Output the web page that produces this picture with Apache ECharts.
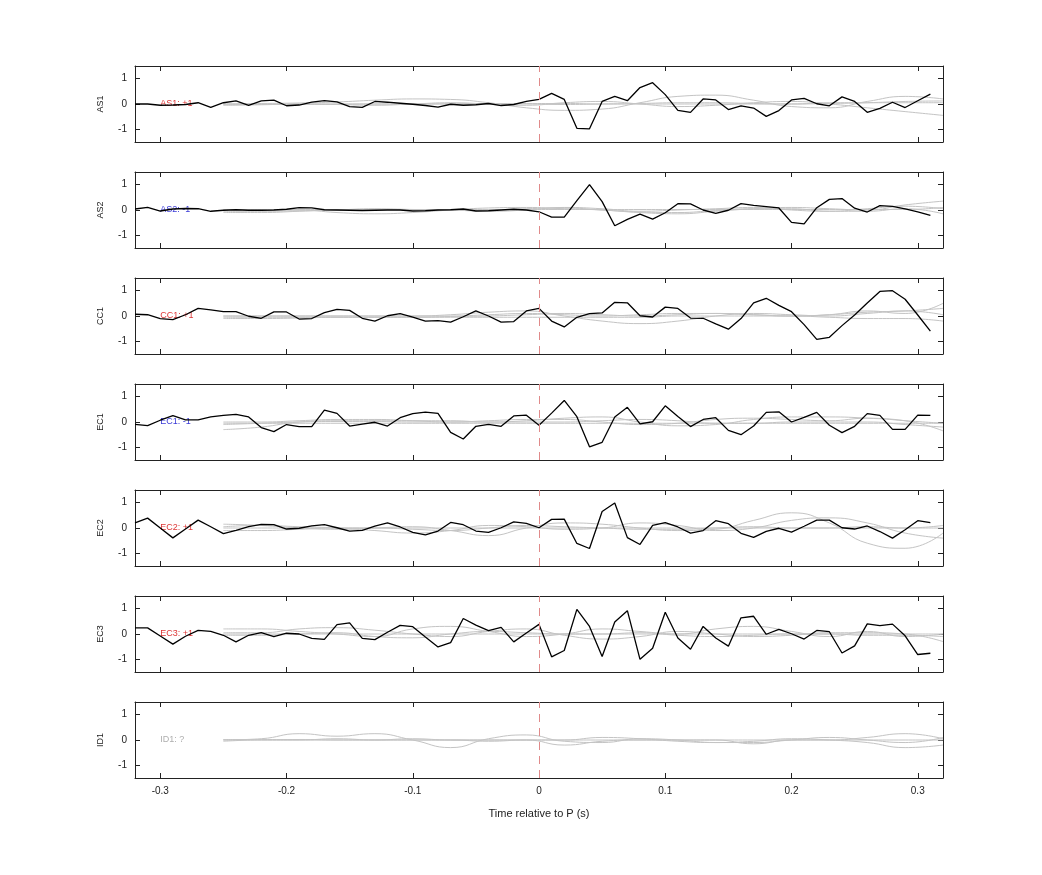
<!DOCTYPE html>
<html>
<head>
<meta charset="utf-8">
<script src="https://cdn.jsdelivr.net/npm/echarts@6/dist/echarts.min.js"></script>
<style>html,body{margin:0;background:#fff}#main{width:1042px;height:875px}</style>
</head>
<body>
<div id="main"></div>
<script>
var stations = ['AS1', 'AS2', 'CC1', 'EC1', 'EC2', 'EC3', 'ID1'];
var polarity = ['AS1: +1', 'AS2: -1', 'CC1: +1', 'EC1: -1', 'EC2: +1', 'EC3: +1', 'ID1: ?'];
var polColor = ['#d40000', '#0000cc', '#d40000', '#0000cc', '#d40000', '#d40000', '#999999'];
var xTicks = [-0.3, -0.2, -0.1, 0, 0.1, 0.2, 0.3];
var yTicks = [-1, 0, 1];

// observed traces, one sample every 0.01 s from -0.32 s
var as1 = [0,0,-0.05,-0.04,-0.02,0.05,-0.13,0.05,0.12,-0.05,0.12,0.15,-0.07,-0.04,0.07,0.13,0.08,-0.1,-0.13,0.1,0.07,0.03,-0.01,-0.06,-0.12,-0.01,-0.05,-0.03,0.02,-0.06,-0.02,0.1,0.18,
  0.42,0.18,-0.96,-0.98,0.1,0.3,0.13,0.65,0.84,0.37,-0.25,-0.33,0.2,0.16,-0.22,-0.07,-0.16,-0.49,-0.26,0.16,0.22,0.01,-0.07,0.28,0.1,-0.33,-0.17,0.07,-0.14,0.13,0.39];
var as2 = [0.04,0.1,-0.04,0.04,0.06,0.05,-0.05,-0.01,0.01,-0.01,-0.01,0,0.03,0.09,0.08,0.01,0,-0.01,-0.02,-0.01,0,0,-0.04,-0.03,0,0.01,0.04,-0.04,-0.03,0,0.03,0,-0.07,
  -0.28,-0.28,0.37,1.0,0.33,-0.62,-0.37,-0.16,-0.36,-0.11,0.25,0.24,0,-0.13,-0.01,0.25,0.18,0.13,0.08,-0.49,-0.55,0.09,0.42,0.45,0.07,-0.08,0.17,0.14,0.04,-0.07,-0.21];
var cc1 = [0.07,0.05,-0.1,-0.14,0.05,0.3,0.24,0.17,0.17,-0.01,-0.09,0.16,0.16,-0.12,-0.1,0.13,0.26,0.22,-0.09,-0.2,0.01,0.09,-0.04,-0.2,-0.18,-0.24,-0.03,0.2,0,-0.24,-0.22,0.2,0.3,
  -0.2,-0.43,-0.05,0.09,0.12,0.54,0.52,0.01,-0.04,0.35,0.3,-0.08,-0.09,-0.31,-0.52,-0.1,0.52,0.7,0.42,0.17,-0.34,-0.92,-0.84,-0.38,0.04,0.51,0.97,1.0,0.66,0.04,-0.6];
var ec1 = [-0.09,-0.14,0.07,0.25,0.08,0.08,0.2,0.26,0.3,0.2,-0.22,-0.38,-0.1,-0.18,-0.18,0.47,0.34,-0.16,-0.08,-0.01,-0.16,0.17,0.33,0.39,0.34,-0.41,-0.67,-0.17,-0.09,-0.17,0.24,0.27,-0.13,
  0.35,0.85,0.21,-0.98,-0.8,0.2,0.58,-0.07,0.01,0.64,0.22,-0.18,0.1,0.17,-0.33,-0.5,-0.16,0.38,0.4,0,0.18,0.38,-0.13,-0.42,-0.17,0.33,0.26,-0.29,-0.29,0.27,0.26];
var ec2 = [0.2,0.39,0,-0.39,-0.04,0.31,0.05,-0.22,-0.09,0.05,0.14,0.13,-0.04,-0.01,0.08,0.13,0.01,-0.12,-0.09,0.07,0.2,0.04,-0.17,-0.27,-0.12,0.22,0.13,-0.12,-0.17,0.01,0.24,0.18,0.01,
  0.34,0.35,-0.61,-0.81,0.65,0.99,-0.38,-0.65,0.1,0.21,0.04,-0.2,-0.1,0.29,0.17,-0.21,-0.37,-0.13,-0.01,-0.16,0.07,0.31,0.31,0.01,-0.04,0.08,-0.14,-0.4,-0.07,0.29,0.21];
var ec3 = [0.24,0.24,-0.08,-0.4,-0.09,0.14,0.1,-0.05,-0.31,-0.05,0.05,-0.1,0.03,0,-0.17,-0.21,0.37,0.44,-0.17,-0.22,0.07,0.34,0.29,-0.12,-0.51,-0.34,0.61,0.35,0.13,0.26,-0.31,0.04,0.38,
  -0.9,-0.65,0.97,0.3,-0.89,0.47,0.92,-1.0,-0.56,0.86,-0.16,-0.6,0.3,-0.16,-0.48,0.64,0.7,-0.01,0.18,0.01,-0.2,0.14,0.09,-0.75,-0.47,0.4,0.33,0.39,-0.07,-0.81,-0.76];
var observed = [as1, as2, cc1, ec1, ec2, ec3, null];

// synthetic traces, one sample every 0.03 s from -0.25 s
var synAS1 = [
  [0,0.02,0.04,0.08,0.15,0.2,0.18,0.05,-0.15,-0.25,-0.2,0.05,0.3,0.35,0.15,-0.1,-0.15,0.1,0.3,0.2],
  [-0.05,-0.03,0,-0.02,-0.05,0,0.05,0,-0.05,0.05,0.1,0,-0.1,-0.05,0.05,0.1,0,-0.15,-0.3,-0.45],
  [0,0,0,0,0,0,0,0,0.02,0.02,0,0,0,0,0,0,0.05,0.05,0.05,0.05],
  [-0.03,-0.02,-0.02,-0.01,0,0,0.01,0.02,0,-0.02,0,0.02,0.05,0.05,0.02,0,0.02,0.05,0.1,0.12]];
var synAS2 = [
  [0,0,0,-0.1,-0.15,-0.1,0,0.08,0.1,0.05,0,-0.1,-0.15,-0.05,0.05,0.1,0.05,0,0.2,0.35],
  [-0.1,-0.1,-0.05,0,0.05,0.02,0,-0.05,0,0.1,0.05,-0.05,0,0.05,0.1,0,-0.05,0.05,0.15,0.05],
  [0.02,0.02,0.02,0.02,0.02,0.02,0.02,0.02,0.02,0.02,0.02,0.02,0.02,0.02,0.02,0.02,0.02,0.02,0.02,0.1],
  [-0.05,-0.05,-0.03,0,0.02,0,-0.02,0,0.05,0.08,0,-0.08,-0.1,-0.02,0.05,0.05,-0.05,-0.05,0.05,-0.15]];
var synCC1 = [
  [0,0,0,0,0,0,0.05,0.15,0.2,0,-0.2,-0.3,-0.2,0,0.1,0.05,0,0.1,0.2,0.05],
  [-0.1,-0.1,-0.08,-0.05,-0.05,-0.05,-0.02,0,0.05,0.1,0.05,0,0.05,0.1,0.05,0,0.05,0.2,0.1,0.5],
  [-0.05,-0.05,-0.05,-0.05,-0.05,-0.05,-0.05,-0.05,-0.05,-0.05,-0.05,-0.05,0,0,0,0,-0.05,-0.1,-0.1,-0.2],
  [0,0,0,0,0,0,0,0.05,0.1,0.05,0,0.05,0.1,0.1,0.05,0,0.05,0.15,0.2,0.3]];
var synEC1 = [
  [-0.3,-0.2,0,0.05,0.05,0.05,0.05,0,0.05,0.15,0.2,0,-0.15,-0.1,0.1,0.2,0.2,0.15,0.05,-0.35],
  [-0.1,-0.05,0,0.02,0.02,0,0,0.05,0.1,0.1,0,-0.1,-0.05,0.1,0.15,0.1,0.05,0.15,0.05,-0.05],
  [0,0,0.05,0.1,0.1,0.05,0,0,0,0,0.05,0.1,0.05,-0.05,-0.05,0,0,0,-0.1,-0.2],
  [-0.05,-0.05,-0.05,-0.05,-0.05,-0.05,-0.05,-0.05,-0.05,-0.05,-0.05,-0.05,-0.05,-0.05,-0.05,-0.05,-0.05,-0.05,-0.05,-0.05]];
var synEC2 = [
  [0.05,0.1,0.05,0,-0.1,-0.2,-0.1,0.1,0.05,-0.05,0,0.2,0.1,-0.1,0,0.3,0.4,0.2,-0.2,-0.4],
  [0.15,0.1,0,-0.05,0,0.05,-0.1,-0.3,0,0.2,0.15,0,-0.1,-0.05,0.3,0.6,0.2,-0.6,-0.8,-0.2],
  [-0.1,-0.1,-0.05,0,0,-0.05,-0.1,0,0.1,0.05,0,-0.05,-0.05,0,0.05,0,0,0.05,0,0.1],
  [0,0,0,0,0,0,0,0,0,0,0,0,0,0,0,0,0,0,0,0]];
var synEC3 = [
  [0.2,0.2,0.1,0,-0.1,0.2,0.3,0.1,-0.1,0,0.2,0.1,0,0.2,0.3,0.1,-0.1,0.1,-0.1,0],
  [0.05,0.05,0.2,0.25,0.15,0,-0.1,0.1,0.2,-0.05,-0.2,-0.1,0.1,0,-0.1,-0.05,0.05,0.05,0,-0.3],
  [-0.05,-0.05,0,0.05,-0.1,-0.15,0,0.1,0.05,0,0,0.05,-0.05,-0.1,-0.05,0,0,-0.05,-0.05,-0.1],
  [0,0,0,0,0,0,0,0,0,0,0,0,0,0,0,0,0,0,0,0]];
var synID1 = [
  [0,0.05,0.25,0.15,0.25,0,-0.3,0.05,0.2,-0.05,-0.1,0.05,0,-0.1,-0.1,0,0.1,0,-0.1,0.1],
  [-0.05,0,0,0.05,0,0.05,0,0,0,0,0.1,0.05,-0.05,-0.1,-0.05,0.05,0,-0.1,-0.3,-0.2],
  [0,0,0,0,0,0,0,-0.05,0,-0.2,-0.05,0,0,0,-0.15,0,0,0.1,0.25,0.05],
  [0.02,0.02,0.02,0,0,0,0,0,0,0,0,0,0,0,0,0,0,0,0,0]];
var synthetic = [synAS1, synAS2, synCC1, synEC1, synEC2, synEC3, synID1];

var tObs = as1.map(function (_, i) { return Math.round((-0.32 + 0.01 * i) * 100) / 100; });
var tSyn = synAS1[0].map(function (_, i) { return Math.round((-0.25 + 0.03 * i) * 100) / 100; });

var font = 'Liberation Sans';
var grids = [], xAxes = [], yAxes = [], series = [];
var n = stations.length;
stations.forEach(function (name, p) {
  var last = p === n - 1;
  grids.push({ left: 135, right: 99, top: 66 + 106 * p, height: 76 });
  var xBase = {
    gridIndex: p, type: 'value', min: -0.32, max: 0.32,
    axisLine: { onZero: false, lineStyle: { color: '#222', width: 1 } },
    axisTick: { inside: true, length: 5, customValues: xTicks, lineStyle: { color: '#222' } },
    splitLine: { show: false }
  };
  xAxes.push(Object.assign({}, xBase, {
    position: 'bottom',
    axisLabel: { show: last, customValues: xTicks, fontFamily: font, fontSize: 10, color: '#222', margin: 8,
      formatter: function (v) { return String(Math.round(v * 10) / 10); } },
    name: last ? 'Time relative to P (s)' : '', nameLocation: 'middle', nameGap: 30,
    nameTextStyle: { fontFamily: font, fontSize: 11, color: '#222' }
  }));
  xAxes.push(Object.assign({}, xBase, { position: 'top', axisLabel: { show: false } }));
  var yBase = {
    gridIndex: p, type: 'value', min: -1.5, max: 1.5,
    axisLine: { onZero: false, lineStyle: { color: '#222', width: 1 } },
    axisTick: { inside: true, length: 5, customValues: yTicks, lineStyle: { color: '#222' } },
    splitLine: { show: false }
  };
  yAxes.push(Object.assign({}, yBase, {
    position: 'left',
    axisLabel: { customValues: yTicks, fontFamily: font, fontSize: 10, color: '#222', margin: 8 },
    name: name, nameLocation: 'middle', nameGap: 30, nameRotate: 90,
    nameTextStyle: { fontFamily: font, fontSize: 9, color: '#222' }
  }));
  yAxes.push(Object.assign({}, yBase, { position: 'right', axisLabel: { show: false } }));

  var xi = 2 * p, yi = 2 * p;
  synthetic[p].forEach(function (vals) {
    series.push({
      type: 'line', xAxisIndex: xi, yAxisIndex: yi, smooth: true, showSymbol: false, silent: true,
      lineStyle: { color: '#c4c4c4', width: 1 },
      data: vals.map(function (v, i) { return [tSyn[i], v]; })
    });
  });
  var obs = observed[p];
  series.push({
    type: 'line', xAxisIndex: xi, yAxisIndex: yi, showSymbol: false, silent: true,
    lineStyle: { color: '#000', width: 1.3 },
    data: obs ? obs.map(function (v, i) { return [tObs[i], v]; }) : [],
    markLine: {
      silent: true, symbol: 'none', label: { show: false },
      lineStyle: { color: '#e08a8a', type: [8, 6], width: 1 },
      data: [{ xAxis: 0 }]
    }
  });
  series.push({
    type: 'scatter', xAxisIndex: xi, yAxisIndex: yi, symbolSize: 0, silent: true,
    data: [[-0.3, 0]],
    label: { show: true, position: 'right', distance: 0, formatter: polarity[p],
      fontFamily: font, fontSize: 9, color: polColor[p] }
  });
});

var myChart = echarts.init(document.getElementById('main'));
myChart.setOption({
  animation: false,
  backgroundColor: '#fff',
  grid: grids, xAxis: xAxes, yAxis: yAxes, series: series
});
</script>
</body>
</html>
